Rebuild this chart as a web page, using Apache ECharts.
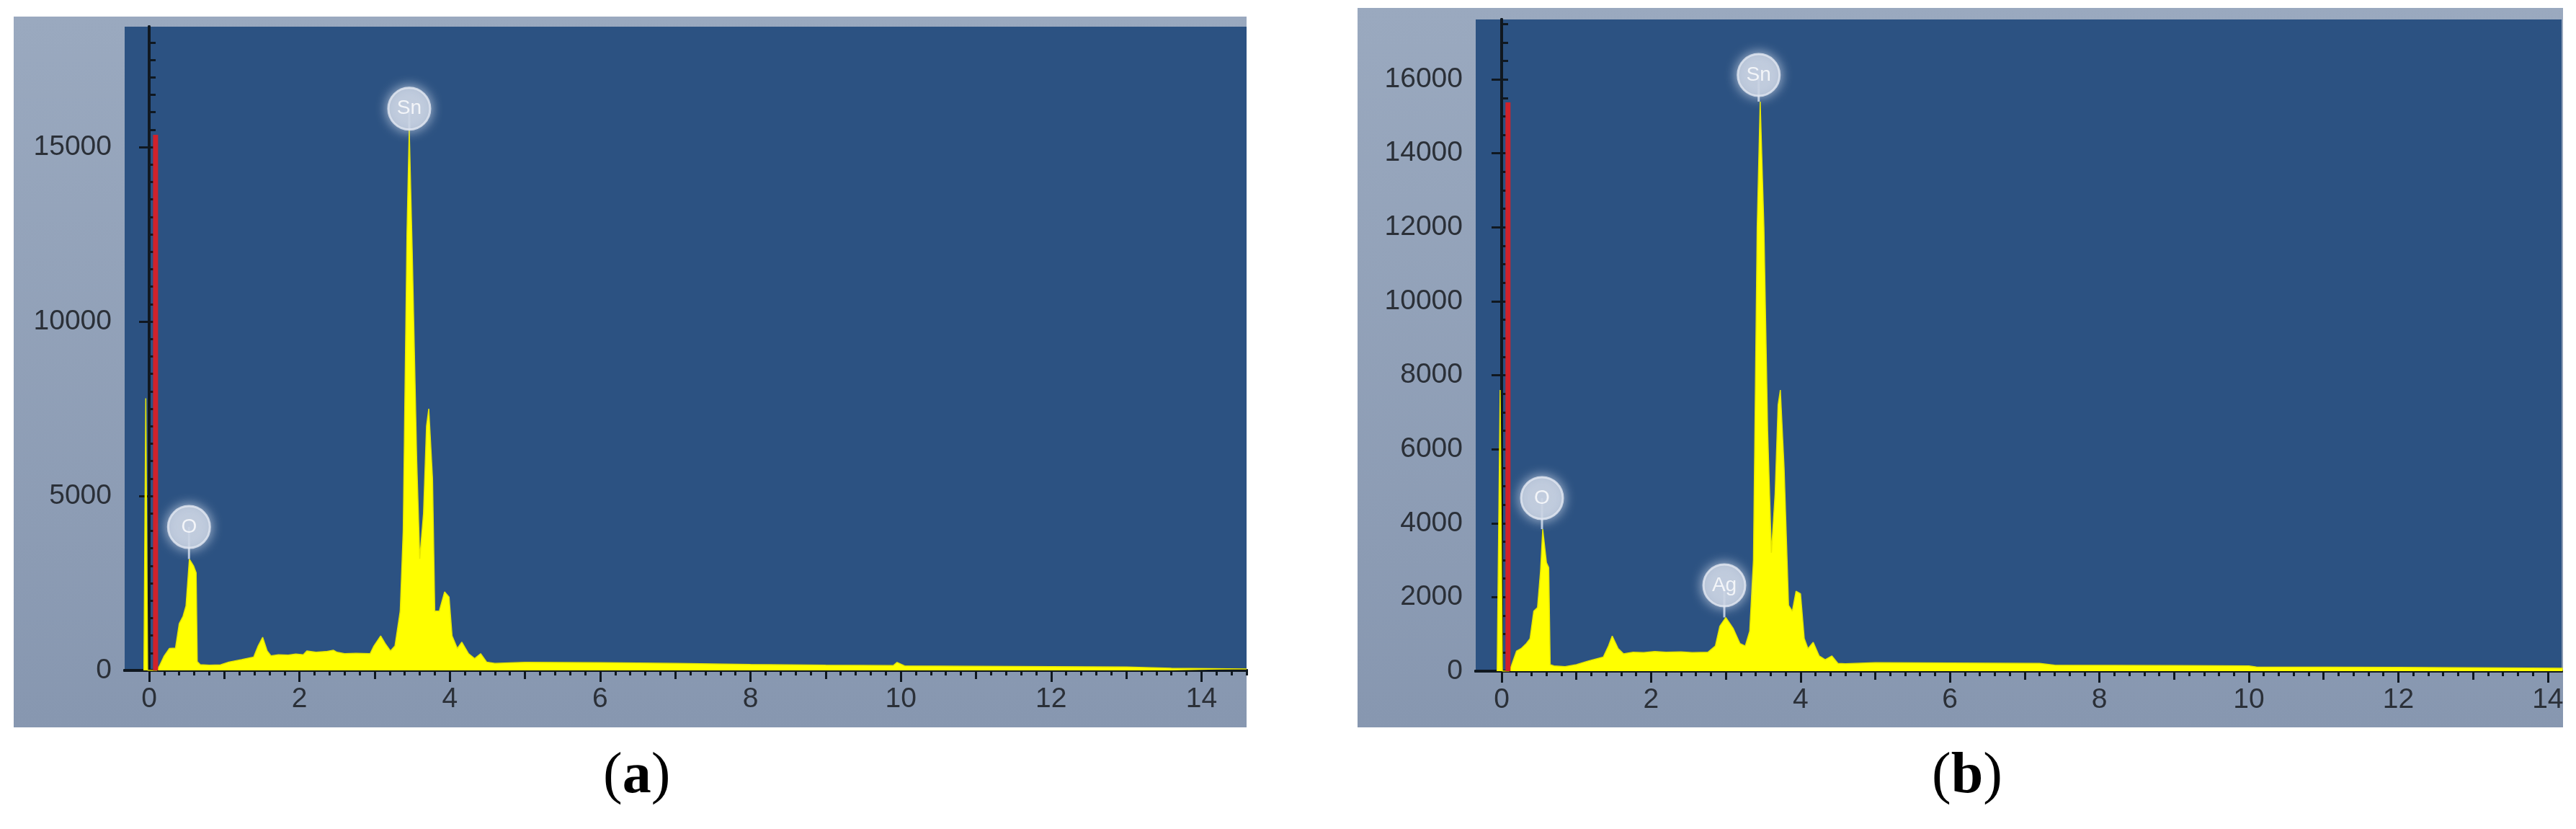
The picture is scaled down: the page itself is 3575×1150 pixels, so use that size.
<!DOCTYPE html>
<html>
<head>
<meta charset="utf-8">
<title>EDS spectra</title>
<script src="https://cdn.jsdelivr.net/npm/echarts@6/dist/echarts.min.js"></script>
<style>
  html, body { margin: 0; padding: 0; background: #fff; }
  #chart { width: 3575px; height: 1150px; }
</style>
</head>
<body>
<div id="chart"></div>
<script>
// spectrum (a): energy in keV, counts
const energyA = [-0.07, -0.045, -0.02, 0.1, 0.137, 0.2, 0.27, 0.35, 0.4, 0.45, 0.49, 0.535, 0.59, 0.625, 0.64, 0.68, 0.8, 0.95, 1.06, 1.23, 1.39, 1.45, 1.51, 1.57, 1.62, 1.72, 1.85, 1.95, 2.05, 2.1, 2.22, 2.35, 2.45, 2.5, 2.6, 2.75, 2.94, 2.99, 3.08, 3.14, 3.21, 3.27, 3.34, 3.38, 3.43, 3.46, 3.5, 3.56, 3.6, 3.65, 3.69, 3.72, 3.77, 3.8, 3.86, 3.93, 3.99, 4.03, 4.1, 4.16, 4.25, 4.33, 4.41, 4.49, 4.6, 5, 6, 7, 8, 9, 9.9, 9.95, 10.05, 11, 12, 13, 13.6, 14.6];
const countsA = [0, 7800, 0, 0, 130, 415, 630, 640, 1340, 1550, 1850, 3190, 3000, 2800, 250, 165, 150, 160, 240, 310, 380, 700, 950, 560, 420, 450, 440, 470, 450, 560, 520, 540, 580, 520, 480, 490, 480, 700, 990, 770, 560, 700, 1700, 4000, 12500, 15500, 12000, 6000, 3200, 4500, 7000, 7500, 5500, 1700, 1700, 2250, 2100, 990, 630, 810, 480, 340, 480, 240, 200, 230, 220, 200, 170, 150, 140, 230, 130, 120, 110, 100, 60, 40];
// spectrum (b)
const energyB = [-0.06, -0.02, 0.01, 0.1, 0.13, 0.2, 0.26, 0.33, 0.38, 0.43, 0.48, 0.52, 0.55, 0.6, 0.63, 0.65, 0.7, 0.85, 1, 1.16, 1.36, 1.43, 1.48, 1.56, 1.63, 1.76, 1.9, 2.05, 2.2, 2.4, 2.55, 2.76, 2.86, 2.92, 3.0, 3.1, 3.19, 3.26, 3.32, 3.37, 3.42, 3.46, 3.51, 3.56, 3.61, 3.66, 3.7, 3.73, 3.78, 3.84, 3.89, 3.94, 4, 4.05, 4.1, 4.17, 4.25, 4.33, 4.42, 4.5, 4.6, 5, 6, 7.2, 7.4, 9, 10, 10.1, 12, 14.2];
const countsB = [0, 7600, 0, 0, 140, 545, 610, 745, 880, 1620, 1720, 2690, 3840, 2930, 2800, 175, 140, 120, 175, 275, 380, 680, 950, 610, 470, 510, 500, 530, 510, 520, 500, 510, 680, 1215, 1450, 1150, 745, 680, 1080, 3000, 12000, 15400, 12000, 6500, 3200, 4800, 7200, 7600, 5500, 1780, 1620, 2160, 2090, 880, 610, 780, 410, 310, 410, 210, 200, 230, 220, 210, 160, 150, 140, 110, 100, 80];

// red zero-energy marker line [keV, counts]
const markerA = [0.085, 15350];
const markerB = [0.085, 15380];

// element labels: name, keV, bubble height, peak top
const elemNamesA = ['O', 'Sn'];
const elemKevA = [0.53, 3.46];
const elemBubbleA = [4110, 16100];
const elemPeakA = [3190, 15500];
const elemNamesB = ['O', 'Ag', 'Sn'];
const elemKevB = [0.54, 2.98, 3.44];
const elemBubbleB = [4680, 2320, 16120];
const elemPeakB = [3840, 1450, 15400];

// tick labels
const xLabels = [0, 2, 4, 6, 8, 10, 12, 14];
const yLabelsA = [0, 5000, 10000, 15000];
const yLabelsB = [0, 2000, 4000, 6000, 8000, 10000, 12000, 14000, 16000];

const zip = (xs, ys) => xs.map((x, i) => [x, ys[i]]);
const steps = (from, to, step) => {
  const out = [];
  for (let v = from; v <= to + 1e-9; v += step) out.push(Math.round(v * 1000) / 1000);
  return out;
};

const BLUE = '#2c5282';
const AXIS = '#101820';
const LABEL = '#2b3038';
const font = 'Liberation Sans, Arial, sans-serif';

const chart = echarts.init(document.getElementById('chart'));

// three stacked x axes per grid: labelled even ticks, odd ticks, 0.2 minor ticks
function xAxes(grid, min, max) {
  const base = {
    gridIndex: grid, type: 'value', min: min, max: max, position: 'bottom',
    splitLine: { show: false },
    axisLine: { show: true, onZero: false, lineStyle: { color: AXIS, width: 4 } },
  };
  return [
    Object.assign({}, base, {
      axisTick: { show: true, customValues: xLabels, length: 16, lineStyle: { color: AXIS, width: 3 } },
      axisLabel: { show: true, customValues: xLabels, margin: 21, fontSize: 39, color: LABEL, fontFamily: font,
        formatter: v => String(v) },
    }),
    Object.assign({}, base, {
      axisTick: { show: true, customValues: [1, 3, 5, 7, 9, 11, 13], length: 12, lineStyle: { color: AXIS, width: 3 } },
      axisLabel: { show: false },
    }),
    Object.assign({}, base, {
      axisTick: { show: true, customValues: steps(0, max, 0.2), length: 7, lineStyle: { color: AXIS, width: 3 } },
      axisLabel: { show: false },
    }),
  ];
}

function yAxes(grid, max, labels, minorStep) {
  const base = {
    gridIndex: grid, type: 'value', min: 0, max: max,
    splitLine: { show: false },
    axisLine: { show: true, lineStyle: { color: AXIS, width: 4 } },
  };
  return [
    Object.assign({}, base, {
      axisTick: { show: true, customValues: labels, length: 14, lineStyle: { color: AXIS, width: 3 } },
      axisLabel: { show: true, customValues: labels, margin: 18, fontSize: 39, color: LABEL, fontFamily: font,
        formatter: v => String(v) },
    }),
    Object.assign({}, base, {
      axisTick: { show: true, customValues: steps(0, max, minorStep), length: 9, lineStyle: { color: AXIS, width: 3 } },
      axisLabel: { show: false },
    }),
  ];
}

function panelSeries(xi, yi, energy, counts, marker, names, kev, bubble, peak) {
  const s = [];
  s.push({
    type: 'line', xAxisIndex: xi, yAxisIndex: yi, data: zip(energy, counts),
    symbol: 'none', z: 3, silent: true,
    lineStyle: { color: '#e6e600', width: 1.5 },
    areaStyle: { color: '#ffff00', opacity: 1 },
  });
  s.push({
    type: 'line', xAxisIndex: xi, yAxisIndex: yi, data: [[marker[0], 0], marker],
    symbol: 'none', z: 4, silent: true,
    lineStyle: { color: '#d0222b', width: 7 },
  });
  names.forEach((n, i) => {
    s.push({
      type: 'line', xAxisIndex: xi, yAxisIndex: yi, data: [[kev[i], peak[i]], [kev[i], bubble[i]]],
      symbol: 'none', z: 5, silent: true,
      lineStyle: { color: '#b9c8dc', width: 3 },
    });
  });
  s.push({
    type: 'scatter', xAxisIndex: xi, yAxisIndex: yi, z: 6, silent: true,
    data: names.map((n, i) => [kev[i], bubble[i], n]),
    symbolSize: 58,
    itemStyle: { color: '#c6d0e0', borderColor: '#e3e9f3', borderWidth: 3, shadowBlur: 16, shadowColor: 'rgba(225,232,244,0.9)' },
    label: { show: true, position: 'inside', formatter: p => p.data[2], fontSize: 28, color: '#ffffff', fontFamily: font },
  });
  return s;
}

const option = {
  animation: false,
  backgroundColor: '#ffffff',
  graphic: [
    // grey instrument frames behind the plots
    { type: 'rect', z: -10, shape: { x: 19, y: 23, width: 1711, height: 986 },
      style: { fill: new echarts.graphic.LinearGradient(0, 0, 0, 1, [{ offset: 0, color: '#9aa9bf' }, { offset: 1, color: '#8797b0' }]) } },
    { type: 'rect', z: -10, shape: { x: 1884, y: 11, width: 1673, height: 998 },
      style: { fill: new echarts.graphic.LinearGradient(0, 0, 0, 1, [{ offset: 0, color: '#9aa9bf' }, { offset: 1, color: '#8797b0' }]) } },
    { type: 'text', left: 837, top: 1038, z: 10,
      style: { text: '{p|(}{b|a}{p|)}', rich: {
        p: { fontFamily: 'Liberation Serif', fontSize: 80, fill: '#000' },
        b: { fontFamily: 'Liberation Serif', fontSize: 80, fontWeight: 'bold', fill: '#000' } } } },
    { type: 'text', left: 2681, top: 1038, z: 10,
      style: { text: '{p|(}{b|b}{p|)}', rich: {
        p: { fontFamily: 'Liberation Serif', fontSize: 80, fill: '#000' },
        b: { fontFamily: 'Liberation Serif', fontSize: 80, fontWeight: 'bold', fill: '#000' } } } },
  ],
  grid: [
    { left: 173, top: 37, width: 1557, height: 893, show: true, backgroundColor: BLUE, borderWidth: 0 },
    { left: 2048, top: 27, width: 1507, height: 904, show: true, backgroundColor: BLUE, borderWidth: 0 },
  ],
  xAxis: [].concat(xAxes(0, -0.326, 14.6), xAxes(1, -0.347, 14.185)),
  yAxis: [].concat(yAxes(0, 18450, yLabelsA, 500), yAxes(1, 17620, yLabelsB, 500)),
  series: [].concat(
    panelSeries(0, 0, energyA, countsA, markerA, elemNamesA, elemKevA, elemBubbleA, elemPeakA),
    panelSeries(3, 2, energyB, countsB, markerB, elemNamesB, elemKevB, elemBubbleB, elemPeakB)
  ),
};

chart.setOption(option);
</script>
</body>
</html>
